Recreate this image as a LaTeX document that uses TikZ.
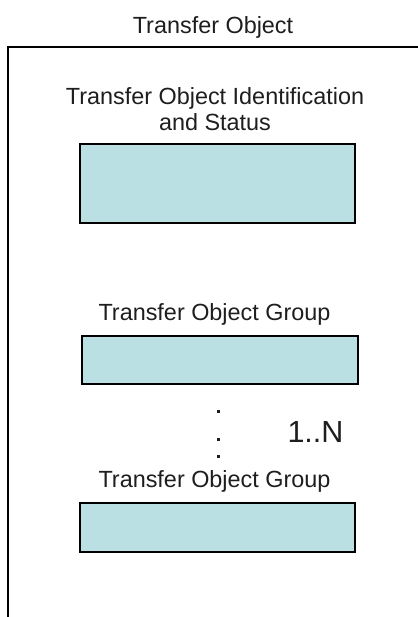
\documentclass[tikz,border=0pt]{standalone}
\usepackage{fontspec}
\setmainfont{Liberation Sans}
\usetikzlibrary{positioning}
\definecolor{groupfill}{RGB}{186,224,227}
\definecolor{textgray}{RGB}{30,30,30}
\tikzset{
  partbox/.style = {draw = black, fill = groupfill, line width = 1.4pt, inner sep = 0pt, minimum width = 275pt, minimum height = 48pt},
  partlabel/.style = {text = textgray, font = \fontsize{23.4}{26}\selectfont, inner sep = 0pt, align = center, anchor = base}
}
\begin{document}
\begin{tikzpicture}[x = 1pt, y = -1pt]
\useasboundingbox (0,0) rectangle (417,617);
\pgfmathsetmacro\framex{8};
\pgfmathsetmacro\framey{47};
\draw [line width = 2pt] (430,\framey) -- (\framex,\framey) -- (\framex,630);
\node [partlabel] (title) at (213,34) {Transfer Object};
\node [partbox, minimum height = 79pt] (status) at (217.5,183.5) {};
\node [partlabel] (statuslabel) at (215,131) {Transfer Object Identification\\and Status};
\node [partbox, minimum width = 276pt] (groupfirst) at (220,360) {};
\node [partlabel] (groupfirstlabel) at (214.5,320) {Transfer Object Group};
\node [partbox, minimum height = 49pt] (grouplast) at (217.5,527.5) {};
\node [partlabel] (grouplastlabel) at (214.5,487) {Transfer Object Group};
\node [partlabel, font = \fontsize{30.5}{34}\selectfont] (count) at (315.5,442) {1..N};
\foreach \y in {413,441,458} \fill [textgray] (217,\y) rectangle +(3,-3);
\end{tikzpicture}
\end{document}
